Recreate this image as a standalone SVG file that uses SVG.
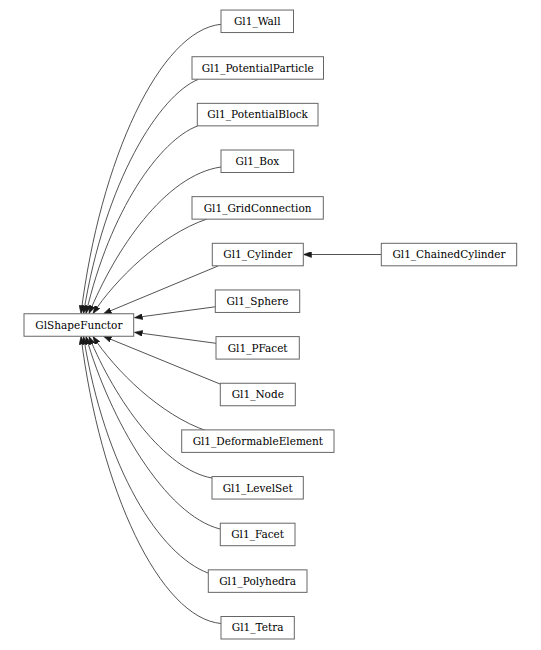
<svg xmlns="http://www.w3.org/2000/svg" width="541" height="650" viewBox="0 0 541 650">
<style>
.n rect{fill:#ffffff;stroke:#666666;stroke-width:1}
.n text{font-family:"DejaVu Serif","Liberation Serif",serif;font-size:10.5px;fill:#000000;text-anchor:middle}
.e path{fill:none;stroke:#404040;stroke-width:0.9;marker-end:url(#ah)}
</style>
<defs>
<marker id="ah" markerUnits="userSpaceOnUse" viewBox="0 0 8 6" refX="8" refY="3" markerWidth="8" markerHeight="6" orient="auto">
<path d="M0,0 L8,3 L0,6 z" fill="#1a1a1a" stroke="#1a1a1a" stroke-width="0.5"/>
</marker>
</defs>
<g id="edges" class="e">
<path d="M221,24.3 C160,30 100,160 81,313.5"/>
<path d="M198,79.5 C160,95 105,180 83.5,313.5"/>
<path d="M197.5,126 C160,140 110,210 86,313.5"/>
<path d="M221,167 C165,175 115,250 89,313.5"/>
<path d="M207,219 C160,235 115,280 93,313.5"/>
<path d="M218,266 L103.5,313.7"/>
<path d="M216,306.7 L134.5,317.7"/>
<path d="M216,343.3 L134.5,332.3"/>
<path d="M220,384 L103.5,336.3"/>
<path d="M207,431 C160,415 115,370 93,336.5"/>
<path d="M212,478 C165,470 115,400 89,336.5"/>
<path d="M220,529 C165,515 110,420 86,336.5"/>
<path d="M208,573 C160,555 105,470 83.5,336.5"/>
<path d="M221,623.5 C160,618 100,490 81,336.5"/>
<path d="M381.3,254.5 L303.5,254.5"/>
</g>
<g id="GlShapeFunctor" class="n"><rect x="24" y="313.75" width="109.7" height="22.5"/><text x="78.85" y="328.7">GlShapeFunctor</text></g>
<g id="Gl1_Wall" class="n"><rect x="221" y="10.05" width="72.5" height="22.5"/><text x="257.25" y="25">Gl1_Wall</text></g>
<g id="Gl1_PotentialParticle" class="n"><rect x="192" y="56.7" width="131.5" height="22.5"/><text x="257.75" y="71.65">Gl1_PotentialParticle</text></g>
<g id="Gl1_PotentialBlock" class="n"><rect x="197.3" y="103.35" width="120.7" height="22.5"/><text x="257.65" y="118.3">Gl1_PotentialBlock</text></g>
<g id="Gl1_Box" class="n"><rect x="221" y="150" width="72.7" height="22.5"/><text x="257.35" y="164.95">Gl1_Box</text></g>
<g id="Gl1_GridConnection" class="n"><rect x="192" y="196.65" width="131.3" height="22.5"/><text x="257.65" y="211.6">Gl1_GridConnection</text></g>
<g id="Gl1_Cylinder" class="n"><rect x="212.3" y="243.3" width="91" height="22.5"/><text x="257.8" y="258.25">Gl1_Cylinder</text></g>
<g id="Gl1_ChainedCylinder" class="n"><rect x="381.3" y="243.3" width="135.4" height="22.5"/><text x="449" y="258.25">Gl1_ChainedCylinder</text></g>
<g id="Gl1_Sphere" class="n"><rect x="215.3" y="289.95" width="84.4" height="22.5"/><text x="257.5" y="304.9">Gl1_Sphere</text></g>
<g id="Gl1_PFacet" class="n"><rect x="216" y="336.6" width="83.3" height="22.5"/><text x="257.65" y="351.55">Gl1_PFacet</text></g>
<g id="Gl1_Node" class="n"><rect x="220.3" y="383.25" width="75" height="22.5"/><text x="257.8" y="398.2">Gl1_Node</text></g>
<g id="Gl1_DeformableElement" class="n"><rect x="181.7" y="429.9" width="152.3" height="22.5"/><text x="257.85" y="444.85">Gl1_DeformableElement</text></g>
<g id="Gl1_LevelSet" class="n"><rect x="212" y="476.55" width="91.3" height="22.5"/><text x="257.65" y="491.5">Gl1_LevelSet</text></g>
<g id="Gl1_Facet" class="n"><rect x="220.3" y="523.2" width="74.7" height="22.5"/><text x="257.65" y="538.15">Gl1_Facet</text></g>
<g id="Gl1_Polyhedra" class="n"><rect x="208.3" y="569.85" width="98.7" height="22.5"/><text x="257.65" y="584.8">Gl1_Polyhedra</text></g>
<g id="Gl1_Tetra" class="n"><rect x="221" y="616.5" width="73.3" height="22.5"/><text x="257.65" y="631.45">Gl1_Tetra</text></g>
</svg>
